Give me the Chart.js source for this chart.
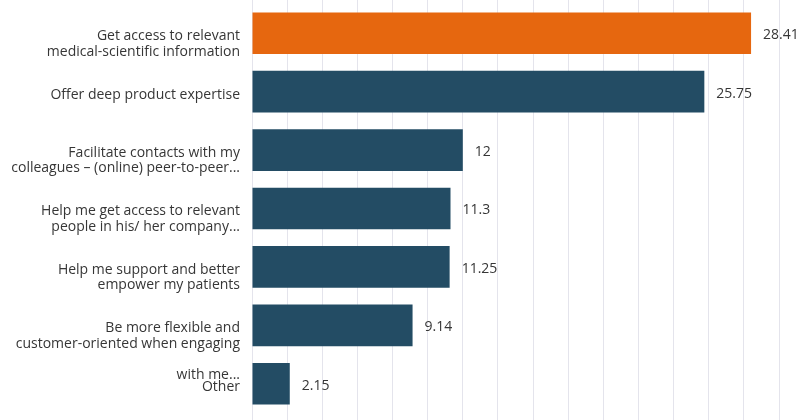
<!DOCTYPE html>
<html>
<head>
<meta charset="utf-8">
<script src="https://cdn.jsdelivr.net/npm/chart.js@4/dist/chart.umd.min.js"></script>
<style>
	html, body { margin: 0; padding: 0; background: #ffffff; }
	#wrap { width: 801px; height: 420px; }
</style>
</head>
<body>
<div id="wrap"><canvas id="myChart"></canvas></div>
<script>
// categories (already wrapped as in the picture)
var labels = [
	["Get access to relevant", "medical-scientific information"],
	["Offer deep product expertise"],
	["Facilitate contacts with my", "colleagues \u2013 (online) peer-to-peer..."],
	["Help me get access to relevant", "people in his/ her company..."],
	["Help me support and better", "empower my patients"],
	["Be more flexible and", "customer-oriented when engaging", "", "with me..."],
	["Other"]
];
var values = [28.41, 25.75, 12, 11.3, 11.25, 9.14, 2.15];
var valueLabels = ["28.41", "25.75", "12", "11.3", "11.25", "9.14", "2.15"];

var orange = "#e6670f";
var blue = "#234c64";
var gridColor = "#e4e4ec";
var textColor = "#363636";

var barColors = [];
for (var i = 0; i < values.length; i++) {
	barColors.push(i == 0 ? orange : blue);
}

// first line of each label sits on the bar centre, the rest below it
function tickLines(value, index) {
	var lines = labels[index];
	var out = [];
	for (var k = 0; k < lines.length - 1; k++) out.push("");
	return out.concat(lines);
}

var valuePlugin = {
	id: "valueLabels",
	afterDatasetsDraw: function(chart) {
		var ctx = chart.ctx;
		var meta = chart.getDatasetMeta(0);
		ctx.save();
		ctx.font = "14px 'Open Sans'";
		ctx.fillStyle = textColor;
		ctx.textAlign = "left";
		ctx.textBaseline = "middle";
		meta.data.forEach(function(bar, i) {
			ctx.fillText(valueLabels[i], bar.x + 12, bar.y + 2);
		});
		ctx.restore();
	}
};

Chart.defaults.font.family = "'Open Sans'";
Chart.defaults.font.size = 14;
Chart.defaults.color = textColor;

var ctx = document.getElementById("myChart");
var myChart = new Chart(ctx, {
	type: "bar",
	data: {
		labels: labels,
		datasets: [{
			data: values,
			backgroundColor: barColors,
			borderWidth: 0,
			categoryPercentage: 0.713,
			barPercentage: 1
		}]
	},
	plugins: [valuePlugin],
	options: {
		indexAxis: "y",
		responsive: true,
		maintainAspectRatio: false,
		animation: false,
		layout: { padding: { left: 0, right: 22, top: 0, bottom: 0 } },
		plugins: {
			legend: { display: false },
			tooltip: { enabled: false }
		},
		scales: {
			x: {
				position: "bottom",
				min: 0,
				max: 30,
				ticks: { display: false, stepSize: 2 },
				grid: { color: gridColor, lineWidth: 1, drawTicks: true, tickLength: 7 },
				border: { display: false }
			},
			xTop: {
				type: "linear",
				axis: "x",
				position: "top",
				min: 0,
				max: 30,
				ticks: { display: false, stepSize: 2 },
				grid: { color: gridColor, lineWidth: 1, drawOnChartArea: false, drawTicks: true, tickLength: 4 },
				border: { display: false }
			},
			y: {
				ticks: {
					autoSkip: false,
					padding: 12,
					labelOffset: 3,
					color: textColor,
					font: { size: 14, lineHeight: 1.1 },
					callback: tickLines
				},
				grid: { display: false, drawTicks: false },
				border: { display: false },
				afterFit: function(scale) {
					scale.width = 252;
					scale.paddingTop = 0;
					scale.paddingBottom = 0;
				}
			}
		}
	}
});
</script>
</body>
</html>
